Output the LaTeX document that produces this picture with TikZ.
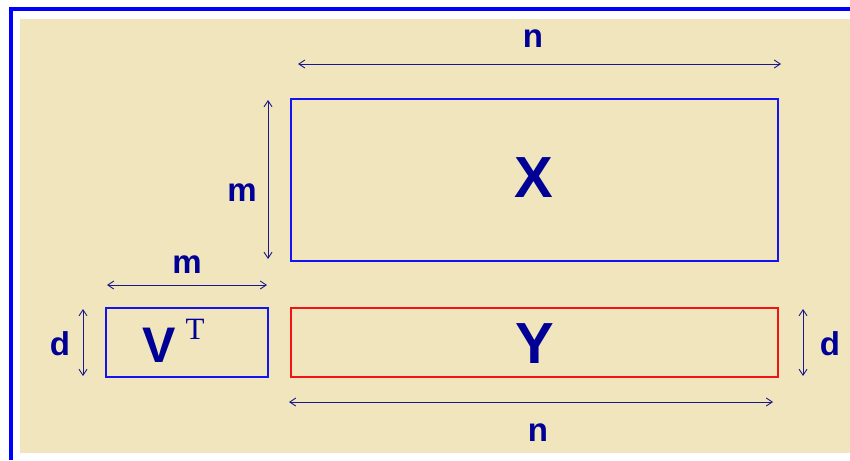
\documentclass[tikz,border=0pt]{standalone}
\usepackage{fontspec}
\setmainfont{Liberation Sans}
\newfontfamily\serifT{Liberation Serif}
\usetikzlibrary{arrows.meta}
\definecolor{bgbeige}{RGB}{241,229,190}
\definecolor{txtblue}{RGB}{0,0,150}
\definecolor{arrblue}{RGB}{25,25,140}
\definecolor{boxblue}{RGB}{20,20,240}
\definecolor{boxred}{RGB}{240,20,20}
\tikzset{
  lbl/.style={anchor=base, inner sep=0pt, text=txtblue, font=\fontsize{33}{33}\selectfont\bfseries},
  big/.style={anchor=base, inner sep=0pt, text=txtblue, font=\fontsize{58}{58}\selectfont\bfseries},
  dim/.style={draw=arrblue, line width=0.9pt, {Straight Barb[length=6pt,width=8pt]}-{Straight Barb[length=6pt,width=8pt]}},
  matb/.style={draw=boxblue, line width=1.3pt},
  matr/.style={draw=boxred, line width=1.3pt}
}
\begin{document}
\begin{tikzpicture}[x=1pt,y=-1pt]
\useasboundingbox (0,0) rectangle (850,460);
\fill[white] (0,0) rectangle (850,460);
\fill[bgbeige] (20,19) rectangle (850,453);
\draw[blue, line width=4pt] (11,460) -- (11,9) -- (850,9);
% boxes
\draw[matb] (291,99) rectangle (778,261);
\draw[matb] (106,308) rectangle (268,377);
\draw[matr] (291,308) rectangle (778,377);
\node[big] (X) at (534,197) {X};
\node[big] (Y) at (535,363) {Y};
\node[anchor=base, inner sep=0pt, text=txtblue, font=\fontsize{50}{50}\selectfont\bfseries] (V) at (159,362) {V};
\node[anchor=base, inner sep=0pt, text=txtblue, font=\serifT\fontsize{31}{31}\selectfont] (T) at (195,339) {T};
% dimension coordinates
\coordinate (nt1) at (298,64); \coordinate (nt2) at (781,64);
\coordinate (mv1) at (268,100); \coordinate (mv2) at (268,259);
\coordinate (mh1) at (107,285); \coordinate (mh2) at (267,285);
\coordinate (dl1) at (83,309); \coordinate (dl2) at (83,376);
\coordinate (dr1) at (803,309); \coordinate (dr2) at (803,376);
\coordinate (nb1) at (289,402); \coordinate (nb2) at (773,402);
\draw[dim] (nt1) -- (nt2);
\draw[dim] (mv1) -- (mv2);
\draw[dim] (mh1) -- (mh2);
\draw[dim] (dl1) -- (dl2);
\draw[dim] (dr1) -- (dr2);
\draw[dim] (nb1) -- (nb2);
\node[lbl] (ntop) at (533,48) {n};
\node[lbl] (mleft) at (242,201) {m};
\node[lbl] (mtop) at (187,273) {m};
\node[lbl] (dleft) at (60,355) {d};
\node[lbl] (dright) at (830,355) {d};
\node[lbl] (nbot) at (538,441) {n};
\end{tikzpicture}
\end{document}
